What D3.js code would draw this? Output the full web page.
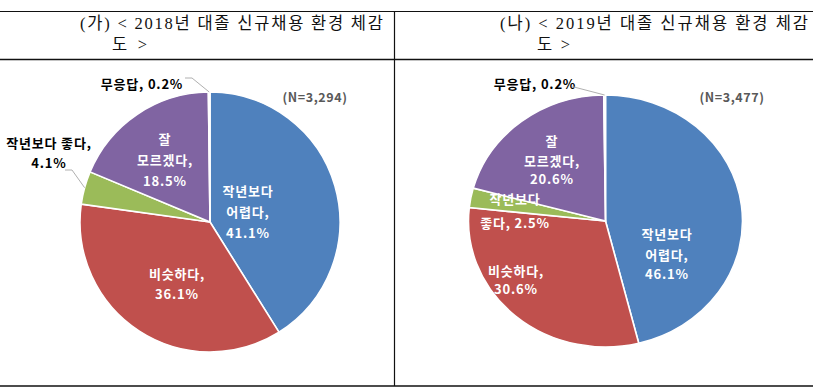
<!DOCTYPE html>
<html><head><meta charset="utf-8">
<script src="https://cdn.jsdelivr.net/npm/d3@7"></script>
<style>body{margin:0;background:#fff;} svg{display:block}</style>
</head><body><svg width="813" height="392"></svg>
<script>
// ---- data ----
const categories = ["작년보다 어렵다", "비슷하다", "작년보다 좋다", "잘 모르겠다", "무응답"];
const values2018 = [41.1, 36.1, 4.1, 18.5, 0.2];
const values2019 = [46.1, 30.6, 2.5, 20.6, 0.2];
const titleLine1 = ["(가) < 2018년 대졸 신규채용 환경 체감", "(나) < 2019년 대졸 신규채용 환경 체감"];
const titleLine2 = ["도 >", "도 >"];
const sampleSizes = ["(N=3,294)", "(N=3,477)"];
const colors = ["#4F81BD", "#C0504D", "#9BBB59", "#8064A2", "#E9EEF5"];

// ---- layout ----
const layout = [
  { values: values2018, cx: 210, cy: 222, rx: 130, ry: 130,
    t1: [80, 383], t2: [112, 147], nX: 315,
    labels: [
      { lines: ["작년보다", "어렵다,", "{v}%"], x: 248, y: [190, 211, 232], fill: "#fff" },
      { lines: ["비슷하다,", "{v}%"], x: 177, y: [273, 293], fill: "#fff" },
      { lines: ["작년보다 좋다,", "{v}%"], x: 49, y: [142, 162], fill: "#000", leader: [[65, 170], [72, 170]] },
      { lines: ["잘", "모르겠다,", "{v}%"], x: 165, y: [138, 159, 180], fill: "#fff" },
      { lines: ["무응답, {v}%"], x: 142, y: [83], fill: "#000", leader: [[185, 78], [192, 78]] }
    ] },
  { values: values2019, cx: 605.5, cy: 221, rx: 137, ry: 126,
    t1: [500, 808], t2: [537, 570], nX: 732,
    labels: [
      { lines: ["작년보다", "어렵다,", "{v}%"], x: 667, y: [233, 254, 273], fill: "#fff" },
      { lines: ["비슷하다,", "{v}%"], x: 516, y: [270, 288], fill: "#fff" },
      { lines: ["작년보다", "좋다, {v}%"], x: 515, y: [198, 222], fill: "#fff" },
      { lines: ["잘", "모르겠다,", "{v}%"], x: 552, y: [140, 160, 178], fill: "#fff" },
      { lines: ["무응답, {v}%"], x: 535, y: [83], fill: "#000", leader: [[572, 87], [574, 87]] }
    ] }
];

const svg = d3.select("svg");
const W = 813;

// table lines
svg.append("line").attr("x1", 0).attr("x2", W).attr("y1", 11.5).attr("y2", 11.5).attr("stroke", "#111").attr("stroke-width", 1);
svg.append("line").attr("x1", 0).attr("x2", W).attr("y1", 59.5).attr("y2", 59.5).attr("stroke", "#111").attr("stroke-width", 1.4);
svg.append("line").attr("x1", 0).attr("x2", W).attr("y1", 386).attr("y2", 386).attr("stroke", "#111").attr("stroke-width", 1.6);
svg.append("line").attr("x1", 394.5).attr("x2", 394.5).attr("y1", 11.5).attr("y2", 386).attr("stroke", "#111").attr("stroke-width", 1.2);

const pie = d3.pie().sort(null).value(d => d).startAngle(0).endAngle(2 * Math.PI);
const labFont = "'Noto Sans CJK KR', 'Noto Sans', sans-serif";
const titleFont = "'Liberation Serif', 'Noto Sans CJK KR', serif";

layout.forEach((L, i) => {
  const g = svg.append("g");
  // titles
  g.append("text").attr("x", L.t1[0]).attr("y", 23).attr("dominant-baseline", "central")
    .attr("font-family", titleFont).attr("font-size", 16.5).attr("fill", "#111")
    .attr("textLength", L.t1[1] - L.t1[0]).attr("lengthAdjust", "spacing")
    .text(titleLine1[i]);
  g.append("text").attr("x", L.t2[0]).attr("y", 44).attr("dominant-baseline", "central")
    .attr("font-family", titleFont).attr("font-size", 16.5).attr("fill", "#111")
    .attr("textLength", L.t2[1] - L.t2[0]).attr("lengthAdjust", "spacing")
    .text(titleLine2[i]);

  const arcs = pie(L.values);
  const arc = d3.arc().innerRadius(0).outerRadius(L.ry);
  const sx = L.rx / L.ry;
  const pg = g.append("g").attr("transform", `translate(${L.cx},${L.cy}) scale(${sx},1)`);
  pg.selectAll("path").data(arcs).join("path")
    .attr("d", arc)
    .attr("fill", (d, j) => colors[j])
    .attr("stroke", "#fff").attr("stroke-width", 1.6)
    .attr("vector-effect", "non-scaling-stroke");

  // N label
  g.append("text").attr("x", L.nX).attr("y", 96).attr("text-anchor", "middle")
    .attr("dominant-baseline", "central").attr("font-family", labFont)
    .attr("font-size", 12.5).attr("font-weight", 700).attr("letter-spacing", 0.6)
    .attr("fill", "#595959").text(sampleSizes[i]);

  // labels
  L.labels.forEach((lb, j) => {
    const v = L.values[j];
    const t = g.append("text").attr("text-anchor", "middle").attr("font-family", labFont)
      .attr("font-size", 13).attr("font-weight", 700).attr("letter-spacing", 0.8).attr("fill", lb.fill);
    lb.lines.forEach((ln, k) => {
      t.append("tspan").attr("x", lb.x).attr("y", lb.y[k]).attr("dominant-baseline", "central")
        .text(ln.replace("{v}", v.toFixed(1)));
    });
    if (lb.leader) {
      const a = (arcs[j].startAngle + arcs[j].endAngle) / 2;
      const end = [L.cx + L.rx * Math.sin(a), L.cy - L.ry * Math.cos(a)];
      const pts = lb.leader.concat([end]);
      g.append("path").attr("d", d3.line()(pts)).attr("fill", "none")
        .attr("stroke", "#b0b0b0").attr("stroke-width", 1);
    }
  });
});
</script>
</body></html>
